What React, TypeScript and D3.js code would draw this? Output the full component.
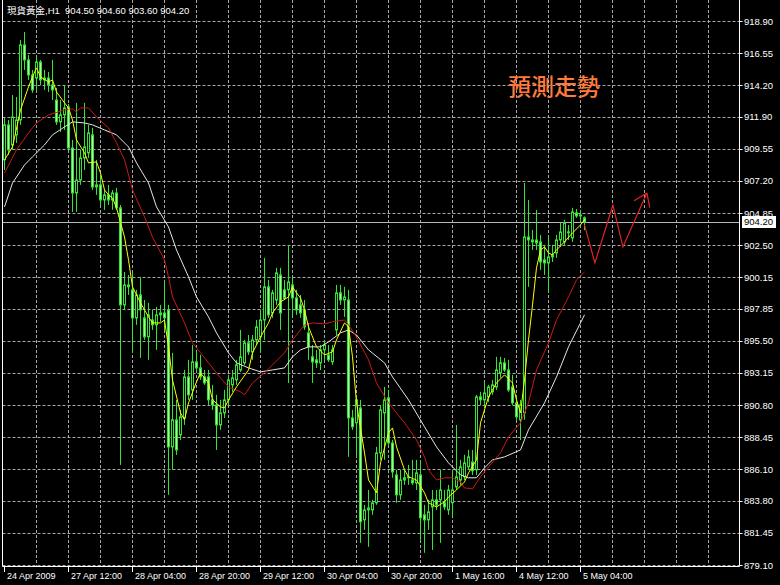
import React from "react";
import * as d3 from "d3";

const W = 780;
const H = 585;

const titleText = "現貨黃金,H1  904.50 904.60 903.60 904.20";
const forecastText = "預測走勢";

const priceTicks = [918.9, 916.55, 914.2, 911.9, 909.55, 907.2, 904.85, 902.5, 900.15, 897.85, 895.5, 893.15, 890.8, 888.45, 886.1, 883.8, 881.45, 879.1];
const bidPrice = 904.2;

const timeLabels = ["24 Apr 2009", "27 Apr 12:00", "28 Apr 04:00", "28 Apr 20:00", "29 Apr 12:00", "30 Apr 04:00", "30 Apr 20:00", "1 May 16:00", "4 May 12:00", "5 May 04:00"];
const timeLabelIdx = [0, 16, 32, 48, 64, 80, 96, 112, 128, 144];

// [open, high, low, close]
const bars: number[][] = [
  [908.74, 911.81, 908.0, 911.3], [911.3, 911.66, 909.1, 909.47], [909.83, 913.49, 909.47, 911.88], [910.57, 913.34, 909.98, 911.66],
  [911.66, 917.51, 911.3, 917.15], [917.15, 918.1, 915.32, 916.05], [916.05, 916.42, 914.59, 914.95], [914.95, 915.32, 913.64, 913.86],
  [914.73, 916.2, 913.86, 915.9], [915.9, 916.05, 914.22, 914.59], [914.59, 915.32, 913.86, 914.73], [914.73, 915.17, 913.71, 914.22],
  [914.22, 916.05, 913.12, 913.86], [913.12, 914.0, 911.3, 911.52], [911.52, 913.12, 910.78, 912.03], [912.03, 914.22, 910.93, 912.54],
  [912.61, 912.83, 909.47, 909.61], [909.61, 910.2, 904.93, 906.32], [906.32, 912.91, 904.93, 907.27], [907.27, 909.47, 906.91, 908.88],
  [908.88, 912.91, 908.0, 909.69], [909.25, 911.3, 908.88, 910.71], [910.57, 911.08, 906.54, 906.76], [906.76, 908.74, 906.18, 906.91],
  [906.91, 907.64, 905.44, 905.81], [905.81, 906.54, 905.08, 906.18], [906.18, 906.91, 905.44, 905.81], [905.81, 906.54, 905.08, 906.32],
  [906.32, 906.69, 905.08, 905.23], [905.23, 905.44, 886.42, 898.13], [898.13, 900.54, 897.76, 899.59], [899.59, 900.32, 898.86, 899.45],
  [899.23, 900.47, 894.62, 897.18], [897.18, 899.23, 896.67, 898.86], [898.86, 900.18, 894.25, 897.76], [897.18, 898.49, 895.57, 895.79],
  [895.79, 898.28, 894.11, 897.4], [897.03, 897.76, 896.3, 896.67], [896.67, 897.98, 894.84, 897.4], [897.4, 898.13, 896.89, 897.54],
  [897.54, 899.96, 896.3, 897.18], [897.76, 898.13, 884.23, 887.74], [887.74, 894.62, 886.06, 889.72], [889.72, 891.18, 887.16, 887.52],
  [888.62, 890.45, 888.25, 889.94], [889.86, 893.37, 889.35, 892.86], [892.86, 894.11, 891.18, 891.55], [891.91, 895.2, 891.18, 893.96],
  [893.96, 894.69, 893.23, 893.52], [893.52, 894.47, 892.64, 892.86], [892.86, 893.37, 892.28, 892.42], [892.86, 893.37, 890.81, 891.18],
  [891.18, 892.28, 890.45, 890.81], [890.81, 891.55, 887.52, 889.35], [889.35, 891.18, 888.99, 890.23], [890.23, 891.91, 889.86, 891.18],
  [891.18, 893.01, 890.81, 892.64], [892.28, 893.37, 891.77, 892.79], [892.64, 894.11, 892.28, 893.74], [893.37, 896.3, 893.23, 894.33],
  [893.89, 895.57, 893.74, 895.35], [895.35, 895.93, 894.47, 894.69], [894.69, 895.93, 894.11, 895.57], [895.57, 897.03, 895.2, 896.52],
  [895.79, 897.76, 894.62, 897.03], [897.03, 901.57, 895.57, 899.45], [899.45, 899.96, 897.18, 897.4], [897.54, 899.23, 897.18, 899.01],
  [898.49, 900.84, 898.13, 900.47], [900.32, 900.84, 896.3, 897.54], [899.23, 899.96, 898.49, 898.6], [899.23, 902.52, 892.42, 899.81],
  [899.59, 900.18, 897.25, 898.64], [898.64, 899.23, 897.4, 897.76], [898.13, 898.86, 897.18, 897.54], [897.76, 898.49, 896.3, 896.52],
  [896.08, 896.81, 894.11, 895.06], [894.33, 895.2, 892.42, 893.96], [894.11, 894.84, 893.52, 893.89], [893.89, 895.2, 893.37, 894.84],
  [894.84, 895.57, 894.11, 895.2], [894.47, 895.2, 893.96, 894.11], [893.96, 895.2, 893.74, 894.84], [896.3, 899.59, 895.93, 899.01],
  [899.01, 899.59, 898.13, 898.49], [898.49, 899.45, 897.25, 898.71], [898.49, 899.23, 887.01, 889.86], [889.86, 890.45, 888.99, 889.21],
  [889.5, 891.4, 887.01, 891.18], [890.59, 891.18, 880.72, 882.26], [882.4, 883.5, 881.67, 883.13], [883.13, 884.59, 880.43, 883.28],
  [883.13, 883.87, 882.77, 883.65], [883.65, 887.74, 883.5, 887.3], [887.3, 890.81, 886.79, 890.45], [890.23, 892.13, 886.79, 891.18],
  [891.33, 891.91, 887.89, 888.03], [888.03, 888.25, 885.48, 885.91], [885.69, 886.06, 883.65, 884.23], [884.23, 886.06, 883.87, 885.32],
  [885.32, 886.06, 884.96, 885.48], [885.48, 886.42, 884.96, 885.55], [885.32, 886.79, 884.96, 885.11], [885.11, 886.79, 884.59, 885.84],
  [885.69, 886.79, 880.94, 882.55], [882.77, 883.5, 879.99, 882.4], [882.4, 883.87, 881.67, 882.99], [883.35, 884.59, 880.2, 883.87],
  [883.87, 884.59, 883.13, 883.5], [883.87, 886.06, 880.72, 884.59], [883.65, 884.59, 883.13, 883.35], [883.13, 884.96, 882.77, 884.59],
  [883.65, 886.06, 882.62, 884.59], [884.81, 889.35, 884.59, 885.55], [885.32, 886.79, 884.96, 886.28], [885.55, 887.16, 885.32, 886.57],
  [886.28, 887.52, 886.06, 887.01], [886.64, 887.52, 885.69, 885.99], [886.06, 891.55, 885.69, 891.4], [891.4, 891.77, 890.81, 891.18],
  [891.18, 892.5, 890.59, 891.69], [891.4, 892.28, 891.03, 892.13], [891.77, 892.64, 891.55, 892.28], [892.13, 894.33, 891.91, 893.37],
  [893.16, 894.33, 892.79, 893.89], [893.89, 894.25, 893.23, 893.37], [893.37, 894.11, 891.77, 891.91], [892.13, 893.01, 890.81, 890.96],
  [890.96, 891.55, 889.72, 889.94], [889.72, 891.18, 888.25, 890.81], [890.23, 907.05, 889.72, 903.1], [903.1, 905.81, 899.45, 902.88],
  [902.88, 903.62, 902.15, 902.74], [902.88, 905.08, 902.15, 902.66], [902.74, 903.25, 900.69, 901.27], [901.42, 902.52, 900.32, 901.2],
  [901.2, 903.1, 899.01, 901.64], [901.64, 902.52, 901.27, 901.79], [901.93, 903.25, 901.57, 902.88], [902.88, 904.13, 902.37, 903.47],
  [902.74, 904.35, 902.52, 904.13], [903.47, 903.98, 902.88, 903.4], [903.03, 905.23, 902.74, 904.93], [904.86, 905.15, 904.49, 904.64],
  [904.71, 905.08, 904.2, 904.64], [904.5, 904.6, 903.6, 904.2],
];

// [bar index, price]
const maYellow: number[][] = [
  [0, 908.74], [2, 909.69], [4, 912.39], [6, 914.08], [7, 914.81], [8, 915.47], [9, 914.81], [11, 914.44], [12, 914.59], [13, 913.71],
  [15, 912.91], [16, 912.54], [17, 911.66], [18, 910.2], [20, 909.25], [21, 908.52], [23, 908.59], [24, 907.78], [25, 906.54], [26, 906.18],
  [27, 905.96], [28, 905.23], [30, 903.1], [31, 901.42], [32, 899.45], [34, 898.28], [36, 897.25], [37, 896.81], [39, 896.81], [40, 897.03],
  [41, 895.06], [42, 892.64], [44, 890.23], [45, 889.72], [46, 890.96], [48, 892.5], [49, 893.16], [51, 892.42], [52, 891.18], [54, 890.67],
  [55, 890.59], [56, 891.18], [58, 892.13], [61, 893.37], [62, 894.62], [64, 895.79], [66, 896.81], [67, 897.54], [69, 898.35], [71, 898.71],
  [72, 899.45], [73, 899.01], [74, 898.64], [75, 897.76], [76, 896.52], [78, 895.06], [80, 894.47], [82, 894.69], [83, 895.57], [85, 896.81],
  [86, 896.52], [87, 894.33], [88, 890.96], [90, 887.3], [91, 885.32], [93, 884.38], [94, 886.57], [96, 888.77], [97, 889.13], [98, 887.74],
  [100, 886.06], [101, 885.55], [103, 885.32], [105, 884.38], [106, 883.65], [108, 883.35], [110, 883.72], [111, 884.08], [113, 884.59],
  [115, 885.18], [116, 885.84], [118, 886.79], [119, 889.5], [121, 891.4], [123, 892.42], [125, 893.01], [127, 892.42], [128, 891.18],
  [129, 890.23], [130, 892.64], [131, 895.57], [132, 898.13], [133, 900.84], [134, 902.15], [135, 902.37], [136, 901.93], [137, 901.79],
  [138, 902.15], [140, 902.74], [142, 903.4], [144, 903.98], [145, 904.35],
];

const maRed: number[][] = [
  [0, 907.78], [3, 909.47], [6, 910.71], [8, 911.44], [11, 912.03], [15, 912.39], [17, 912.47], [18, 912.25], [19, 912.54], [21, 912.54],
  [23, 911.88], [26, 911.08], [28, 909.98], [30, 908.74], [32, 906.54], [35, 904.57], [37, 903.1], [40, 901.42], [41, 900.18], [42, 898.71],
  [45, 896.81], [47, 895.35], [49, 894.62], [51, 893.89], [54, 892.79], [56, 892.13], [59, 891.77], [60, 891.55], [62, 892.42], [65, 893.16],
  [67, 893.74], [70, 894.62], [72, 895.57], [74, 896.3], [75, 896.67], [77, 896.81], [80, 896.74], [82, 896.89], [85, 897.03], [86, 896.67],
  [88, 895.79], [91, 894.11], [93, 892.42], [96, 890.96], [100, 889.5], [103, 888.25], [105, 887.01], [106, 886.06], [108, 885.32],
  [110, 885.48], [112, 885.48], [114, 885.18], [115, 884.74], [117, 884.67], [119, 885.55], [121, 886.28], [124, 887.3], [126, 888.47],
  [129, 889.5], [131, 890.96], [133, 893.37], [136, 895.35], [138, 897.03], [141, 898.71], [143, 899.96], [145, 900.54],
];

const maWhite: number[][] = [
  [0, 905.3], [2, 907.05], [5, 908.37], [7, 908.96], [10, 909.83], [12, 910.57], [15, 911.15], [17, 911.52], [20, 911.44], [22, 911.3],
  [25, 910.93], [28, 910.57], [31, 909.69], [33, 908.52], [36, 907.05], [38, 905.3], [41, 903.83], [43, 902.15], [46, 900.18], [48, 898.71],
  [51, 897.25], [53, 896.08], [56, 894.62], [58, 893.89], [61, 893.52], [64, 893.23], [67, 893.37], [70, 893.52], [72, 894.33], [74, 894.84],
  [76, 895.06], [79, 895.06], [81, 895.42], [84, 896.08], [86, 896.3], [88, 895.93], [91, 894.84], [95, 893.89], [97, 892.86], [101, 891.18],
  [105, 889.21], [108, 887.74], [111, 886.57], [114, 885.69], [116, 885.48], [118, 885.48], [120, 886.21], [122, 886.79], [125, 887.01],
  [129, 887.52], [131, 888.99], [135, 890.96], [138, 892.86], [141, 895.06], [145, 897.4],
];

// forecast zigzag (drawn object)
const projIdx = [145, 147.6, 152.1, 154.6, 160.6];
const projPrice = [903.98, 901.2, 905.44, 902.37, 906.32];

const GREEN = "#33e633";
const GRID = "#a8a8a8";
const FONT = "'Liberation Sans', Arial, 'Noto Sans CJK TC', sans-serif";

export default function App() {
  const x = d3.scaleLinear().domain([0, 145]).range([4.5, 584.5]);
  const y = d3.scaleLinear().domain([879.1, 918.9]).range([565, 21]);

  const plotLeft = 2.5;
  const plotRight = 739.5;
  const plotBottom = 566.5;

  const gridIdx = d3.range(8, 200, 8).filter((i) => x(i) < plotRight - 1);

  const line = d3
    .line<number[]>()
    .x((d) => x(d[0]))
    .y((d) => y(d[1]));

  const projPts = projIdx.map((d, i) => [d, projPrice[i]]);
  const n = projPts.length;
  const tipX = x(projPts[n - 1][0]);
  const tipY = y(projPts[n - 1][1]);
  const prevX = x(projPts[n - 2][0]);
  const prevY = y(projPts[n - 2][1]);
  const ang = Math.atan2(prevY - tipY, prevX - tipX);
  const barbLen = 15;
  const barbAng = (35 * Math.PI) / 180;
  const barbs = [ang + barbAng, ang - barbAng].map((a) => [tipX + barbLen * Math.cos(a), tipY + barbLen * Math.sin(a)]);

  return (
    <svg width={W} height={H} style={{ position: "absolute", left: 0, top: 0, display: "block", background: "#000" }}>
      <rect x={0} y={0} width={W} height={H} fill="#000" />

      {/* grid */}
      <g stroke={GRID} strokeWidth={1} strokeDasharray="3,2">
        {priceTicks.map((p) => (
          <line key={"h" + p} x1={plotLeft} x2={plotRight} y1={Math.round(y(p)) + 0.5} y2={Math.round(y(p)) + 0.5} />
        ))}
        {gridIdx.map((i) => (
          <line key={"v" + i} x1={x(i)} x2={x(i)} y1={0} y2={plotBottom} />
        ))}
      </g>

      {/* bid line */}
      <line x1={plotLeft} x2={plotRight} y1={Math.round(y(bidPrice)) + 0.5} y2={Math.round(y(bidPrice)) + 0.5} stroke="#b4b8bc" strokeWidth={1} />

      {/* candles */}
      <g>
        {bars.map((b, i) => {
          const [o, h, l, c] = b;
          const cx = x(i);
          const top = y(Math.max(o, c));
          const bot = y(Math.min(o, c));
          const bull = c >= o;
          return (
            <g key={"b" + i}>
              <line x1={cx} x2={cx} y1={y(h)} y2={y(l)} stroke={GREEN} strokeWidth={1} />
              <rect
                x={cx - 1}
                y={top}
                width={2}
                height={Math.max(0.5, bot - top)}
                fill={bull ? "#000" : "#b4f8a8"}
                stroke={GREEN}
                strokeWidth={1}
              />
            </g>
          );
        })}
      </g>

      {/* moving averages */}
      <path d={line(maWhite) || ""} fill="none" stroke="#e6e6e6" strokeWidth={1} />
      <path d={line(maRed) || ""} fill="none" stroke="#cc1818" strokeWidth={1} />
      <path d={line(maYellow) || ""} fill="none" stroke="#ffff00" strokeWidth={1} />

      {/* forecast arrow */}
      <path d={line(projPts) || ""} fill="none" stroke="#e02424" strokeWidth={1.2} />
      {barbs.map((p, i) => (
        <line key={"barb" + i} x1={tipX} y1={tipY} x2={p[0]} y2={p[1]} stroke="#e02424" strokeWidth={1.2} />
      ))}

      {/* forecast text */}
      <text x={508} y={95} fill="#ff7b3c" fontSize={23} fontFamily="'Noto Sans CJK TC', 'Noto Sans CJK SC', sans-serif" fontWeight={500}>
        {forecastText}
      </text>

      {/* title */}
      <text x={7} y={14} fill="#ffffff" fontSize={9.5} fontFamily={FONT} style={{ whiteSpace: "pre" }}>
        {titleText}
      </text>

      {/* borders */}
      <line x1={plotLeft} x2={plotLeft} y1={0} y2={plotBottom} stroke="#ffffff" strokeWidth={1} />
      <line x1={plotRight} x2={plotRight} y1={0} y2={plotBottom} stroke="#ffffff" strokeWidth={1} />
      <line x1={plotLeft} x2={plotRight} y1={plotBottom} y2={plotBottom} stroke="#ffffff" strokeWidth={1} />

      {/* price axis */}
      <g fontFamily={FONT} fontSize={9.5} fill="#ffffff">
        {priceTicks.map((p) => (
          <g key={"pl" + p}>
            <line x1={plotRight} x2={plotRight + 3} y1={Math.round(y(p)) + 0.5} y2={Math.round(y(p)) + 0.5} stroke="#ffffff" />
            <text x={744} y={y(p) + 3.5}>
              {p.toFixed(2)}
            </text>
          </g>
        ))}
      </g>
      <rect x={742} y={Math.round(y(bidPrice)) - 6} width={34} height={12} fill="#ffffff" />
      <text x={744} y={y(bidPrice) + 3.5} fill="#000" fontFamily={FONT} fontSize={9.5}>
        {bidPrice.toFixed(2)}
      </text>

      {/* time axis */}
      <g fontFamily={FONT} fontSize={9} fill="#ffffff">
        {timeLabels.map((t, k) => (
          <g key={"tl" + k}>
            <line x1={x(timeLabelIdx[k])} x2={x(timeLabelIdx[k])} y1={plotBottom} y2={572} stroke="#ffffff" />
            <text x={x(timeLabelIdx[k]) + 2.5} y={579}>
              {t}
            </text>
          </g>
        ))}
      </g>
    </svg>
  );
}
